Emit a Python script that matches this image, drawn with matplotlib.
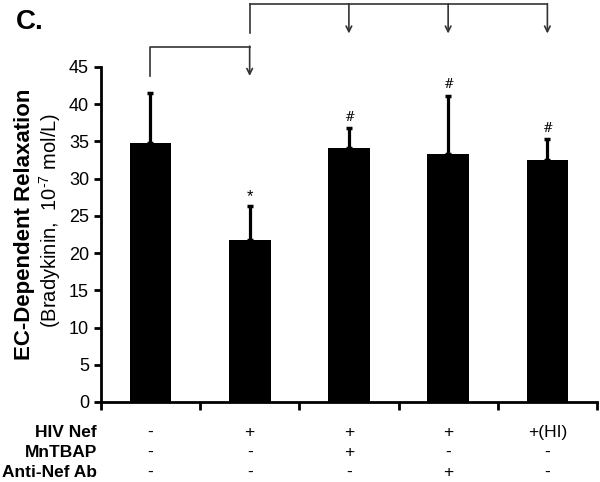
import matplotlib
matplotlib.use("Agg")
import matplotlib.pyplot as plt
import numpy as np

plt.rcParams['font.family'] = ['Liberation Sans', 'DejaVu Sans']
plt.rcParams['mathtext.fontset'] = 'custom'
plt.rcParams['mathtext.rm'] = 'Liberation Sans'

groups = ['1', '2', '3', '4', '5']
means = [34.75, 21.75, 34.1, 33.3, 32.5]
errors = [6.75, 4.55, 2.7, 7.85, 2.8]
marks = ['', '*', '#', '#', '#']
row_labels = ['HIV Nef', 'MnTBAP', 'Anti-Nef Ab']
row_values = [
    ['-', '+', '+', '+', '+(HI)'],
    ['-', '-', '+', '-', '-'],
    ['-', '-', '-', '+', '-'],
]
yticks = [0, 5, 10, 15, 20, 25, 30, 35, 40, 45]

fig = plt.figure(figsize=(6.0, 4.82), dpi=100)
ax = fig.add_axes([0.168, 0.166, 0.827, 0.695])

x = np.arange(len(groups))
ax.bar(x, means, width=0.42, color='black', zorder=2)
ax.errorbar(x, means, yerr=[np.zeros(len(errors)), errors], fmt='none',
            ecolor='black', elinewidth=2.3, capsize=2.3, capthick=2.5, zorder=3)
for xi, m, e, t in zip(x, means, errors, marks):
    if t == '*':
        ax.text(xi, m + e + 0.3, t, ha='center', va='bottom', fontsize=12)
    elif t:
        ax.text(xi, m + e + 0.6, t, ha='center', va='bottom', fontsize=9,
                family=['DejaVu Serif'])

ax.set_xlim(-0.5, 4.5)
ax.set_ylim(0, 45)
ax.set_yticks(yticks)
ax.tick_params(axis='y', labelsize=13, width=2, length=5, direction='out')
ax.set_xticks(np.arange(-0.5, 5.0, 1.0))
ax.set_xticklabels([])
ax.tick_params(axis='x', width=2, length=6, direction='out')
for s in ['top', 'right']:
    ax.spines[s].set_visible(False)
for s in ['left', 'bottom']:
    ax.spines[s].set_linewidth(2)

# y label
ax.text(-0.153, 0.531, 'EC-Dependent Relaxation', transform=ax.transAxes,
        rotation=90, ha='center', va='center', fontsize=16, fontweight='bold')
ax.text(-0.103, 0.543, '(Bradykinin,  10$^{\\text{-7}}$ mol/L)', transform=ax.transAxes,
        rotation=90, ha='center', va='center', fontsize=14.5)

# panel label
fig.text(0.027, 0.954, 'C.', fontsize=20, fontweight='bold', ha='left', va='center')

# brackets
lw = 1.2
col = '#333333'
ax.plot([0, 0, 1], [43.8, 47.7, 47.7], color=col, lw=lw, clip_on=False)
ax.annotate('', xy=(1, 43.8), xytext=(1, 47.8),
            arrowprops=dict(arrowstyle='->', color=col, lw=lw, shrinkA=0, shrinkB=0),
            annotation_clip=False)
ax.plot([1, 1], [49.5, 53.4], color=col, lw=lw, clip_on=False)
ax.plot([1, 4], [53.4, 53.4], color=col, lw=lw, clip_on=False)
for xi in [2, 3, 4]:
    ax.annotate('', xy=(xi, 49.5), xytext=(xi, 53.5),
                arrowprops=dict(arrowstyle='->', color=col, lw=lw, shrinkA=0, shrinkB=0),
                annotation_clip=False)

# condition table
row_y = [-4.1, -6.8, -9.5]
for lab, vals, yy in zip(row_labels, row_values, row_y):
    ax.text(-0.54, yy, lab, ha='right', va='center', fontsize=12.5, fontweight='bold',
            clip_on=False)
    for xi, v in zip(x, vals):
        ax.text(xi, yy, v, ha='center', va='center', fontsize=12.5, clip_on=False)

fig.savefig('out.png', dpi=100)
